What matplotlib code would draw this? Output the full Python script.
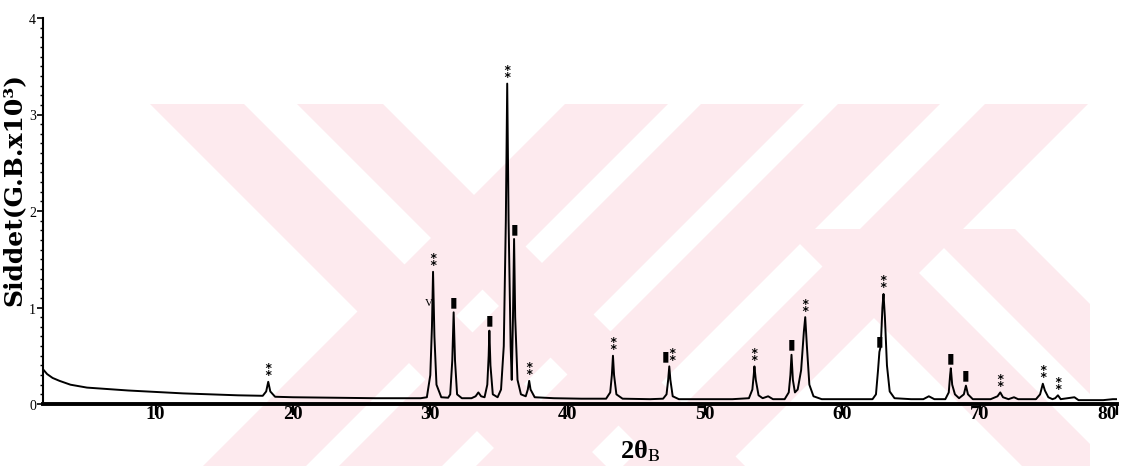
import matplotlib
matplotlib.use('Agg')
import matplotlib.pyplot as plt
from matplotlib.patches import Polygon, Rectangle

plt.rcParams['mathtext.fontset'] = 'stix'

# XRD trace (2theta, intensity x10^3)
trace_tt = [1.8, 2.1, 2.5, 3.0, 3.8, 5.0, 6.5, 8.0, 10.0, 12.0, 14.0, 16.0, 17.5,
            17.8, 18.05, 18.2, 18.35, 18.7,
            20.0, 23.0, 26.0, 29.3,
            29.75, 30.0, 30.12, 30.2, 30.3, 30.45, 30.8, 31.3,
            31.45, 31.6, 31.7, 31.8, 31.95, 32.3,
            33.0, 33.3, 33.5, 33.7, 33.95,
            34.15, 34.25, 34.3, 34.38, 34.55, 34.9,
            35.15, 35.35, 35.5, 35.6, 35.7, 35.85, 35.93,
            36.02, 36.1, 36.18, 36.35, 36.6, 36.95,
            37.1, 37.2, 37.3, 37.6,
            39.0, 41.0, 42.8,
            43.1, 43.22, 43.3, 43.38, 43.55, 44.0,
            46.0, 46.95,
            47.2, 47.32, 47.4, 47.48, 47.65, 48.1,
            50.0, 52.0, 53.2,
            53.45, 53.55, 53.6, 53.7, 53.9, 54.2, 54.6, 54.95, 55.8,
            56.1, 56.22, 56.3, 56.4, 56.55, 56.75,
            57.0, 57.2, 57.3, 57.42, 57.6, 57.9, 58.5,
            60.0, 62.2,
            62.45, 62.6, 62.7, 62.8, 62.92, 63.0, 63.1, 63.25, 63.45, 63.8,
            65.0, 65.9, 66.3, 66.7, 67.5,
            67.75, 67.85, 67.9, 68.0, 68.2, 68.5,
            68.85, 69.0, 69.15, 69.5,
            70.8, 71.3, 71.5, 71.7, 72.1, 72.5, 72.8,
            74.1, 74.4, 74.6, 74.75, 75.0, 75.3,
            75.5, 75.7, 75.9, 76.9, 77.2, 79.0, 79.7, 80.0]
trace_i = [0.36, 0.31, 0.27, 0.24, 0.20, 0.17, 0.155, 0.14, 0.125, 0.11, 0.10, 0.09, 0.085,
           0.085, 0.13, 0.23, 0.13, 0.075,
           0.07, 0.065, 0.06, 0.06,
           0.07, 0.3, 0.8, 1.37, 0.7, 0.2, 0.07, 0.065,
           0.1, 0.45, 0.95, 0.45, 0.1, 0.06,
           0.06, 0.08, 0.12, 0.08, 0.07,
           0.2, 0.5, 0.76, 0.4, 0.1, 0.07,
           0.15, 0.6, 1.9, 3.32, 1.9, 0.6, 0.25,
           0.9, 1.71, 0.9, 0.25, 0.1, 0.08,
           0.15, 0.24, 0.15, 0.07,
           0.06, 0.055, 0.055,
           0.12, 0.3, 0.50, 0.3, 0.1, 0.055,
           0.05, 0.055,
           0.1, 0.25, 0.39, 0.25, 0.08, 0.05,
           0.05, 0.05, 0.06,
           0.15, 0.3, 0.39, 0.25, 0.09, 0.06, 0.08, 0.05, 0.05,
           0.12, 0.3, 0.51, 0.25, 0.12, 0.15,
           0.35, 0.75, 0.90, 0.6, 0.2, 0.08, 0.05,
           0.05, 0.05,
           0.1, 0.35, 0.54, 0.6, 1.0, 1.14, 0.9, 0.4, 0.13, 0.06,
           0.05, 0.05, 0.08, 0.05, 0.05,
           0.12, 0.3, 0.37, 0.2, 0.1, 0.06,
           0.1, 0.19, 0.1, 0.05,
           0.05, 0.08, 0.12, 0.07, 0.05, 0.07, 0.05,
           0.05, 0.1, 0.21, 0.14, 0.07, 0.05,
           0.06, 0.09, 0.05, 0.07, 0.04, 0.04, 0.05, 0.05]
assert len(trace_tt) == len(trace_i)

# peak labels: double-star phase and square phase
star_tt = [18.2, 30.2, 35.6, 37.2, 43.3, 47.4, 53.6, 57.3, 63.0, 71.5, 74.6, 75.7]
star_i = [0.23, 1.37, 3.32, 0.24, 0.50, 0.39, 0.39, 0.90, 1.14, 0.12, 0.21, 0.09]
square_tt = [31.7, 34.3, 36.1, 47.4, 56.3, 62.7, 67.9, 69.0]
square_i = [0.95, 0.76, 1.71, 0.39, 0.51, 0.54, 0.37, 0.19]
v_mark = (30.2, 1.05)

x_ticks = [10, 20, 30, 40, 50, 60, 70, 80]
y_ticks = [0, 1, 2, 3, 4]

# pale pink watermark stripes (pixel columns at the top edge of the band)
wm_down = [(150, 244), (297, 383)]
wm_up = [(565, 668), (701, 804), (838, 940), (985, 1088)]
wm_down_low = [(660, 750), (800, 890)]

W, H = 1121, 477
fig = plt.figure(figsize=(W / 100, H / 100), dpi=100)

bg = fig.add_axes([0, 0, 1, 1], zorder=0)
bg.set_xlim(0, W)
bg.set_ylim(H, 0)
bg.axis('off')
pink = '#fdeaee'
top, bot = 105, 467
span = bot - top
for x0, x1 in wm_down:
    p = Polygon([(x0, top), (x1, top), (x1 + span, bot), (x0 + span, bot)], closed=True,
                facecolor=pink, edgecolor='none')
    bg.add_patch(p)
    p.set_clip_path(Rectangle((150, top), 940, span, transform=bg.transData))
for x0, x1 in wm_up:
    p = Polygon([(x0, top), (x1, top), (x1 - span, bot), (x0 - span, bot)], closed=True,
                facecolor=pink, edgecolor='none')
    bg.add_patch(p)
    p.set_clip_path(Rectangle((150, top), 940, span, transform=bg.transData))
for x0, x1 in wm_down_low:
    p = Polygon([(x0, top), (x1, top), (x1 + span, bot), (x0 + span, bot)], closed=True,
                facecolor=pink, edgecolor='none')
    bg.add_patch(p)
    p.set_clip_path(Rectangle((150, 230), 940, bot - 230, transform=bg.transData))

ax = fig.add_axes([43 / W, 1 - 405 / H, (1117 - 43) / W, (405 - 19) / H], zorder=1)
ax.set_facecolor('none')
ax.plot(trace_tt, trace_i, color='black', lw=1.4)
ax.set_xlim(1.8, 80)
ax.set_ylim(0, 4.0)

for s in ['top', 'right']:
    ax.spines[s].set_visible(False)
ax.spines['left'].set_linewidth(1.5)
ax.spines['bottom'].set_linewidth(2.8)

serif = 'Liberation Serif'
ax.set_xticks(x_ticks)
labels = ax.set_xticklabels([str(t) for t in x_ticks], fontsize=14, fontweight='bold', family=serif)
labels[-1].set_horizontalalignment('right')
ax.tick_params(axis='x', direction='out', length=8, width=1.6, pad=-7)
ax.set_yticks(y_ticks)
ax.set_yticklabels([str(t) for t in y_ticks], fontsize=10, family=serif)
ax.set_yticks([i / 10 for i in range(41)], minor=True)
ax.tick_params(axis='y', which='major', direction='out', length=4, width=1.2, pad=1)
ax.tick_params(axis='y', which='minor', direction='out', length=2.5, width=1.0)
ax.tick_params(axis='x', which='minor', length=0)

for tt, inten in zip(star_tt, star_i):
    dx = 2 if tt in square_tt else 0
    ax.annotate('⁑', xy=(tt, inten), xytext=(dx, 8), textcoords='offset points',
                ha='center', va='center', fontsize=11, fontweight='bold', family='DejaVu Sans')
for tt, inten in zip(square_tt, square_i):
    dx = -3 if tt in star_tt else 0
    ax.annotate('▮', xy=(tt, inten), xytext=(dx, 8), textcoords='offset points',
                ha='center', va='center', fontsize=10, family='DejaVu Sans')
ax.annotate('V', xy=v_mark, xytext=(-3, 0), textcoords='offset points',
            ha='center', va='center', fontsize=8, family=serif)

fig.text(14 / W, 1 - 190 / H, 'Siddet(G.B.x10³)', rotation=90, ha='center', va='center',
         fontsize=18, fontweight='bold', family='DejaVu Serif')
fig.text(620 / W, 1 - 458 / H, '2θ$_{\\mathrm{B}}$', ha='left', va='baseline',
         fontsize=19, fontweight='bold', family=serif)

fig.savefig('out.png', dpi=100)
